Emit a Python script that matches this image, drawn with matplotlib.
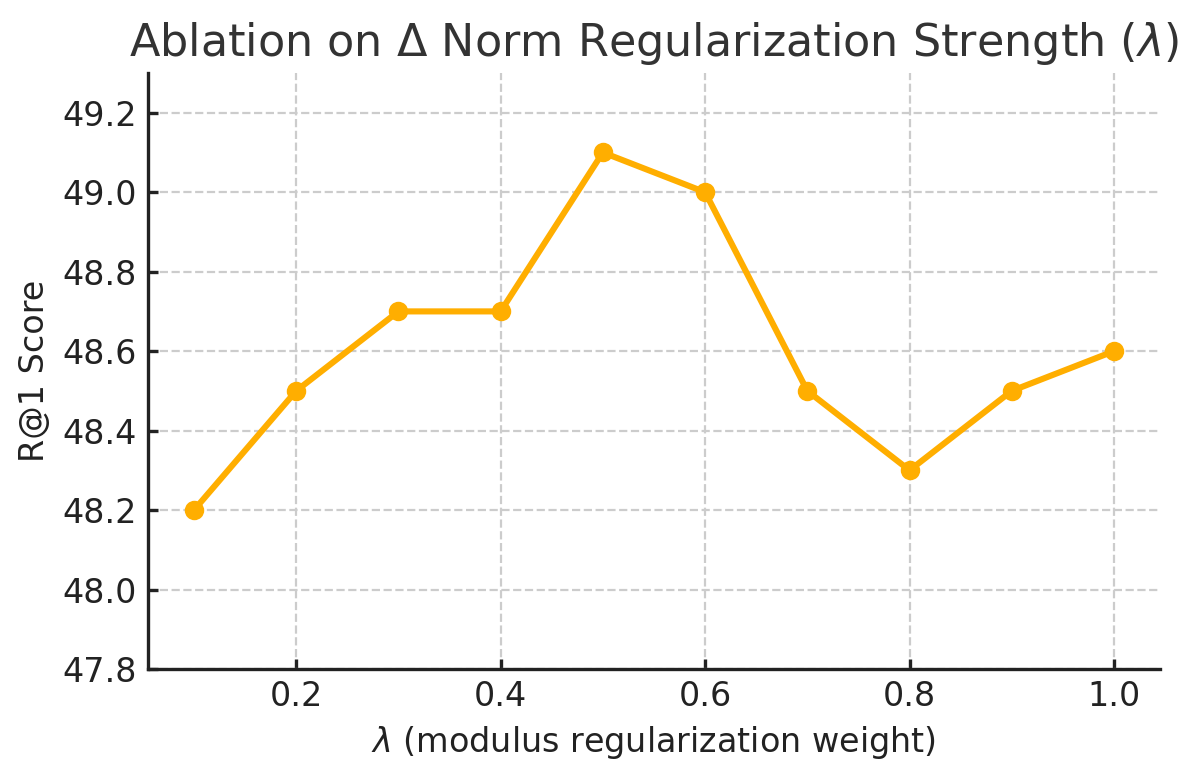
import matplotlib
matplotlib.use("Agg")
import matplotlib.pyplot as plt

# lambda values and R@1 scores
lambdas = [0.1, 0.2, 0.3, 0.4, 0.5, 0.6, 0.7, 0.8, 0.9, 1.0]
r1_scores = [48.2, 48.5, 48.7, 48.7, 49.1, 49.0, 48.5, 48.3, 48.5, 48.6]
yticks = [47.8, 48.0, 48.2, 48.4, 48.6, 48.8, 49.0, 49.2]
xticks = [0.2, 0.4, 0.6, 0.8, 1.0]

fig = plt.figure(figsize=(5.995, 3.9), dpi=200)
ax = fig.add_axes([148 / 1199, 1 - 669 / 780, (1160 - 148) / 1199, (669 - 73) / 780])

ax.plot(lambdas, r1_scores, color="#FFAE00", linewidth=2.2, marker="o", markersize=6)

ax.set_ylim(47.8, 49.3)
ax.set_yticks(yticks)
ax.set_xticks(xticks)
ax.grid(True, linestyle="--", color="#cccccc", linewidth=0.8)
ax.set_axisbelow(True)

for side in ["top", "right"]:
    ax.spines[side].set_visible(False)
for side in ["left", "bottom"]:
    ax.spines[side].set_color("#222222")
    ax.spines[side].set_linewidth(1.2)

ax.tick_params(direction="in", length=3.5, width=1.2, color="#222222",
               labelsize=12, labelcolor="#222222", pad=4)

ax.set_title(r"Ablation on $\Delta$ Norm Regularization Strength ($\lambda$)",
             fontsize=16, color="#333333", pad=6)
ax.set_xlabel(r"$\lambda$ (modulus regularization weight)", fontsize=12, color="#222222")
ax.set_ylabel("R@1 Score", fontsize=12, color="#222222")

fig.savefig("out.png", dpi=200)
